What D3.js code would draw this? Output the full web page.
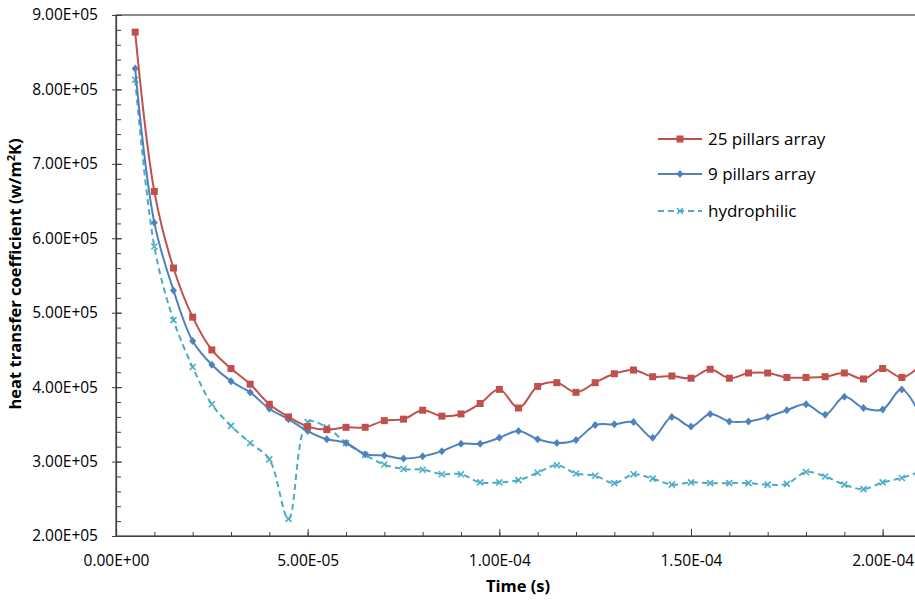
<!DOCTYPE html>
<html>
<head>
<meta charset="utf-8">
<script src="https://cdn.jsdelivr.net/npm/d3@7"></script>
<style>
  html, body { margin: 0; padding: 0; background: #fff; }
  svg { display: block; font-family: "Open Sans", sans-serif; }
</style>
</head>
<body>
<svg id="chart" width="915" height="602"></svg>
<script>
// ---- data ----
const times = d3.range(1, 43).map(i => +(i * 5e-6).toExponential(3));
const pillars25 = [8.77e5, 6.63e5, 5.60e5, 4.94e5, 4.50e5, 4.25e5, 4.04e5, 3.77e5, 3.60e5, 3.47e5,
  3.43e5, 3.46e5, 3.46e5, 3.55e5, 3.57e5, 3.69e5, 3.61e5, 3.64e5, 3.78e5, 3.97e5,
  3.72e5, 4.01e5, 4.06e5, 3.93e5, 4.06e5, 4.18e5, 4.23e5, 4.14e5, 4.15e5, 4.12e5,
  4.24e5, 4.12e5, 4.19e5, 4.19e5, 4.13e5, 4.13e5, 4.14e5, 4.19e5, 4.11e5, 4.25e5,
  4.13e5, 4.30e5];
const pillars9 = [8.28e5, 6.21e5, 5.30e5, 4.62e5, 4.30e5, 4.08e5, 3.93e5, 3.71e5, 3.57e5, 3.41e5,
  3.30e5, 3.25e5, 3.10e5, 3.08e5, 3.04e5, 3.07e5, 3.14e5, 3.24e5, 3.24e5, 3.32e5,
  3.41e5, 3.30e5, 3.25e5, 3.29e5, 3.49e5, 3.50e5, 3.53e5, 3.32e5, 3.60e5, 3.47e5,
  3.64e5, 3.54e5, 3.54e5, 3.60e5, 3.69e5, 3.77e5, 3.63e5, 3.87e5, 3.72e5, 3.70e5,
  3.97e5, 3.60e5];
const hydrophilic = [8.13e5, 5.89e5, 4.90e5, 4.27e5, 3.77e5, 3.48e5, 3.25e5, 3.03e5, 2.23e5, 3.53e5,
  3.46e5, 3.25e5, 3.09e5, 2.96e5, 2.90e5, 2.89e5, 2.83e5, 2.83e5, 2.72e5, 2.72e5,
  2.75e5, 2.85e5, 2.95e5, 2.84e5, 2.81e5, 2.71e5, 2.83e5, 2.77e5, 2.69e5, 2.72e5,
  2.71e5, 2.71e5, 2.71e5, 2.69e5, 2.70e5, 2.86e5, 2.80e5, 2.69e5, 2.63e5, 2.72e5,
  2.78e5, 2.87e5];
const seriesNames = ["25 pillars array", "9 pillars array", "hydrophilic"];
const xTickValues = [0, 5e-5, 1e-4, 1.5e-4, 2e-4];
const xTickLabels = ["0.00E+00", "5.00E-05", "1.00E-04", "1.50E-04", "2.00E-04"];
const yTickValues = [2e5, 3e5, 4e5, 5e5, 6e5, 7e5, 8e5, 9e5];
const yTickLabels = ["2.00E+05", "3.00E+05", "4.00E+05", "5.00E+05", "6.00E+05", "7.00E+05", "8.00E+05", "9.00E+05"];

// ---- layout ----
const svg = d3.select("#chart");
const L = 116, R = 921, T = 15, B = 536;
const x = d3.scaleLinear().domain([0, 2.1e-4]).range([L, R]);
const y = d3.scaleLinear().domain([2e5, 9e5]).range([B, T]);
const axisColor = "#404040";

svg.append("rect").attr("width", 915).attr("height", 602).attr("fill", "#fff");

// plot frame (top and right borders)
svg.append("rect").attr("x", L).attr("y", T).attr("width", R - L).attr("height", B - T)
  .attr("fill", "none").attr("stroke", axisColor).attr("stroke-width", 1.2);

// x axis
const xMinor = d3.range(0, 22).map(i => i * 1e-5);
const xAx = svg.append("g").attr("transform", `translate(0,${B})`);
xAx.call(d3.axisBottom(x).tickValues(xMinor).tickSize(-4).tickFormat(""));
xAx.call(g => g.select(".domain").remove());
xAx.selectAll("line").attr("stroke", axisColor);
const xMaj = svg.append("g").attr("transform", `translate(0,${B})`)
  .call(d3.axisBottom(x).tickValues(xTickValues).tickSize(-7).tickPadding(19)
    .tickFormat((d, i) => xTickLabels[i]));
xMaj.select(".domain").attr("stroke", axisColor).attr("stroke-width", 1.2);
xMaj.selectAll("line").attr("stroke", axisColor);
xMaj.selectAll("text").attr("font-size", "15.5px").attr("fill", "#000")
  .attr("font-family", "Open Sans, sans-serif");

// y axis
const yMinor = d3.range(0, 36).map(i => 2e5 + i * 2e4);
const yAx = svg.append("g").attr("transform", `translate(${L},0)`);
yAx.call(d3.axisLeft(y).tickValues(yMinor).tickSize(-5).tickFormat(""));
yAx.call(g => g.select(".domain").remove());
yAx.selectAll("line").attr("stroke", axisColor);
const yMaj = svg.append("g").attr("transform", `translate(${L},0)`)
  .call(d3.axisLeft(y).tickValues(yTickValues).tickSize(4).tickPadding(14)
    .tickFormat((d, i) => yTickLabels[i]));
yMaj.select(".domain").attr("stroke", axisColor).attr("stroke-width", 1.2);
yMaj.selectAll("line").attr("stroke", axisColor).attr("x2", 6).attr("x1", -4);
yMaj.selectAll("text").attr("font-size", "15.5px").attr("fill", "#000")
  .attr("font-family", "Open Sans, sans-serif");

// axis titles
svg.append("text").attr("x", 518).attr("y", 592).attr("text-anchor", "middle")
  .attr("font-weight", "bold").attr("font-size", "16.5px").text("Time (s)");
const yt = svg.append("text").attr("transform", "translate(21,274) rotate(-90)")
  .attr("text-anchor", "middle").attr("font-weight", "bold").attr("font-size", "16.5px");
yt.append("tspan").text("heat transfer coefficient (w/m");
yt.append("tspan").attr("font-size", "11px").attr("dy", -6).text("2");
yt.append("tspan").attr("dy", 6).text("K)");

// series
const colors = ["#C0504D", "#4F81BD", "#4BACC6"];
const seriesData = [pillars25, pillars9, hydrophilic];
const line = d3.line().x(d => x(d[0])).y(d => y(d[1])).curve(d3.curveCatmullRom.alpha(0.5));

function drawMarker(g, kind, cx, cy, color) {
  if (kind === 0) {
    g.append("rect").attr("x", cx - 3.5).attr("y", cy - 3.5).attr("width", 7).attr("height", 7)
      .attr("fill", color);
  } else if (kind === 1) {
    g.append("path").attr("d", `M${cx},${cy - 4}L${cx + 3.5},${cy}L${cx},${cy + 4}L${cx - 3.5},${cy}Z`)
      .attr("fill", color);
  } else {
    g.append("path").attr("d", `M${cx - 3},${cy - 3}L${cx + 3},${cy + 3}M${cx - 3},${cy + 3}L${cx + 3},${cy - 3}`)
      .attr("stroke", color).attr("stroke-width", 1.6).attr("fill", "none");
  }
}

// draw hydrophilic first, then blue, then red on top
[2, 1, 0].forEach(k => {
  const pts = times.map((t, i) => [t, seriesData[k][i]]);
  svg.append("path").datum(pts).attr("d", line).attr("fill", "none")
    .attr("stroke", colors[k]).attr("stroke-width", 2)
    .attr("stroke-dasharray", k === 2 ? "6,4" : null);
  const g = svg.append("g");
  pts.forEach(p => drawMarker(g, k, x(p[0]), y(p[1]), colors[k]));
});

// legend
const legY = [139, 174, 211];
seriesNames.forEach((name, k) => {
  const g = svg.append("g");
  g.append("line").attr("x1", 658).attr("x2", 702).attr("y1", legY[k]).attr("y2", legY[k])
    .attr("stroke", colors[k]).attr("stroke-width", 2)
    .attr("stroke-dasharray", k === 2 ? "6,4" : null);
  drawMarker(g, k, 680, legY[k], colors[k]);
  g.append("text").attr("x", 708).attr("y", legY[k]).attr("dy", "0.35em")
    .attr("font-size", "17px").attr("fill", "#000").text(name);
});
</script>
</body>
</html>
